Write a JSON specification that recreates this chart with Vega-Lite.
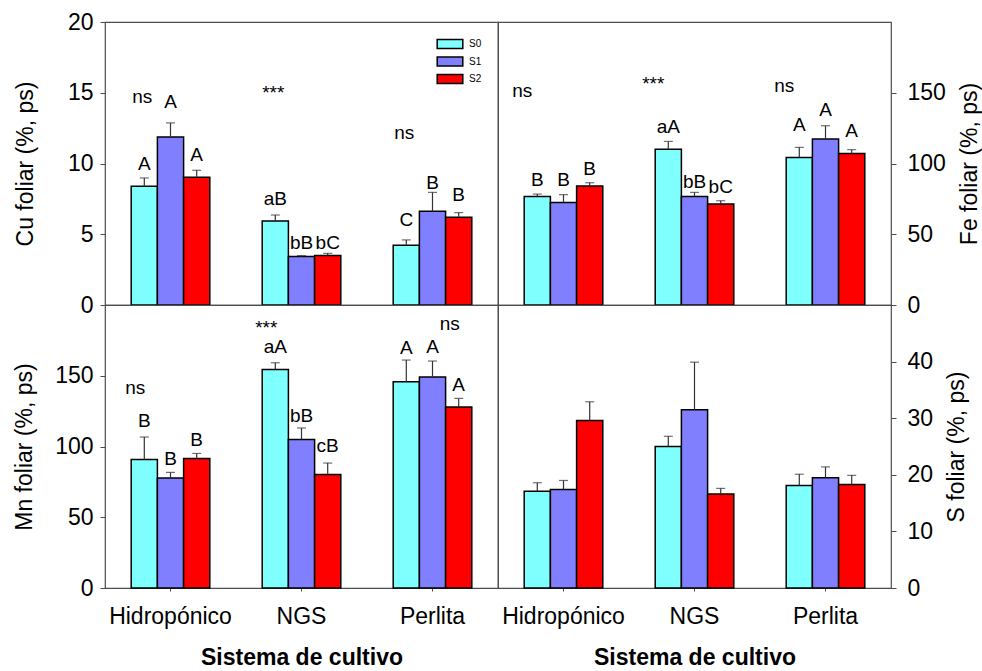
{
  "$schema": "https://vega.github.io/schema/vega-lite/v6.json",
  "padding": {"left": 13, "top": 10, "right": 0, "bottom": 0},
  "background": "white",
  "config": {
    "font": "Liberation Sans",
    "view": {"stroke": "#4d4d4d", "strokeWidth": 1.2},
    "concat": {"spacing": 0},
    "axis": {"domain": false, "grid": false, "labelFont": "Liberation Sans", "labelFontSize": 23, "labelColor": "black", "titleFont": "Liberation Sans", "titleFontSize": 23, "titleFontWeight": "normal", "titleColor": "black", "tickColor": "#4d4d4d", "tickSize": 5},
    "text": {"font": "Liberation Sans", "color": "black"}
  },
  "datasets": {
    "bars": [
      {"p": "Cu", "g": "Hidropónico", "s": "S0", "v": 8.39, "e": 8.98, "lab": "A", "ly": 9.57},
      {"p": "Cu", "g": "Hidropónico", "s": "S1", "v": 11.88, "e": 12.87, "lab": "A", "ly": 13.93},
      {"p": "Cu", "g": "Hidropónico", "s": "S2", "v": 9.02, "e": 9.52, "lab": "A", "ly": 10.16},
      {"p": "Cu", "g": "NGS", "s": "S0", "v": 5.94, "e": 6.36, "lab": "aB", "ly": 7.09},
      {"p": "Cu", "g": "NGS", "s": "S1", "v": 3.42, "e": 3.49, "lab": "bB", "ly": 3.98},
      {"p": "Cu", "g": "NGS", "s": "S2", "v": 3.49, "e": 3.65, "lab": "bC", "ly": 3.98},
      {"p": "Cu", "g": "Perlita", "s": "S0", "v": 4.22, "e": 4.6, "lab": "C", "ly": 5.56},
      {"p": "Cu", "g": "Perlita", "s": "S1", "v": 6.62, "e": 7.96, "lab": "B", "ly": 8.2},
      {"p": "Cu", "g": "Perlita", "s": "S2", "v": 6.2, "e": 6.53, "lab": "B", "ly": 7.33},
      {"p": "Fe", "g": "Hidropónico", "s": "S0", "v": 76.7, "e": 78.4, "lab": "B", "ly": 83.8},
      {"p": "Fe", "g": "Hidropónico", "s": "S1", "v": 72.5, "e": 78.0, "lab": "B", "ly": 83.8},
      {"p": "Fe", "g": "Hidropónico", "s": "S2", "v": 84.1, "e": 86.4, "lab": "B", "ly": 91.6},
      {"p": "Fe", "g": "NGS", "s": "S0", "v": 110.0, "e": 115.6, "lab": "aA", "ly": 121.5},
      {"p": "Fe", "g": "NGS", "s": "S1", "v": 76.7, "e": 79.6, "lab": "bB", "ly": 82.7},
      {"p": "Fe", "g": "NGS", "s": "S2", "v": 71.4, "e": 73.7, "lab": "bC", "ly": 78.9},
      {"p": "Fe", "g": "Perlita", "s": "S0", "v": 104.3, "e": 111.4, "lab": "A", "ly": 123.2},
      {"p": "Fe", "g": "Perlita", "s": "S1", "v": 117.3, "e": 126.7, "lab": "A", "ly": 133.8},
      {"p": "Fe", "g": "Perlita", "s": "S2", "v": 107.1, "e": 109.8, "lab": "A", "ly": 118.4},
      {"p": "Mn", "g": "Hidropónico", "s": "S0", "v": 90.9, "e": 106.7, "lab": "B", "ly": 113.5},
      {"p": "Mn", "g": "Hidropónico", "s": "S1", "v": 77.7, "e": 81.7, "lab": "B", "ly": 86.9},
      {"p": "Mn", "g": "Hidropónico", "s": "S2", "v": 91.6, "e": 95.1, "lab": "B", "ly": 100.1},
      {"p": "Mn", "g": "NGS", "s": "S0", "v": 154.5, "e": 159.2, "lab": "aA", "ly": 165.8},
      {"p": "Mn", "g": "NGS", "s": "S1", "v": 105.0, "e": 113.1, "lab": "bB", "ly": 117.0},
      {"p": "Mn", "g": "NGS", "s": "S2", "v": 80.3, "e": 88.3, "lab": "cB", "ly": 95.8},
      {"p": "Mn", "g": "Perlita", "s": "S0", "v": 145.8, "e": 161.1, "lab": "A", "ly": 165.4},
      {"p": "Mn", "g": "Perlita", "s": "S1", "v": 149.1, "e": 160.4, "lab": "A", "ly": 165.8},
      {"p": "Mn", "g": "Perlita", "s": "S2", "v": 127.9, "e": 134.0, "lab": "A", "ly": 138.9},
      {"p": "S", "g": "Hidropónico", "s": "S0", "v": 17.1, "e": 18.6, "lab": "", "ly": 0},
      {"p": "S", "g": "Hidropónico", "s": "S1", "v": 17.4, "e": 19.0, "lab": "", "ly": 0},
      {"p": "S", "g": "Hidropónico", "s": "S2", "v": 29.6, "e": 32.9, "lab": "", "ly": 0},
      {"p": "S", "g": "NGS", "s": "S0", "v": 25.0, "e": 26.8, "lab": "", "ly": 0},
      {"p": "S", "g": "NGS", "s": "S1", "v": 31.5, "e": 39.9, "lab": "", "ly": 0},
      {"p": "S", "g": "NGS", "s": "S2", "v": 16.6, "e": 17.6, "lab": "", "ly": 0},
      {"p": "S", "g": "Perlita", "s": "S0", "v": 18.1, "e": 20.1, "lab": "", "ly": 0},
      {"p": "S", "g": "Perlita", "s": "S1", "v": 19.5, "e": 21.4, "lab": "", "ly": 0},
      {"p": "S", "g": "Perlita", "s": "S2", "v": 18.3, "e": 19.9, "lab": "", "ly": 0}
    ],
    "ann": [
      {"p": "Cu", "g": "Hidropónico", "s": "S0", "t": "ns", "y": 14.29},
      {"p": "Cu", "g": "NGS", "s": "S0", "t": "***", "y": 14.58},
      {"p": "Cu", "g": "Perlita", "s": "S0", "t": "ns", "y": 11.74},
      {"p": "Fe", "g": "Hidropónico", "s": "S0", "t": "ns", "y": 147.2},
      {"p": "Fe", "g": "NGS", "s": "S0", "t": "***", "y": 152.2},
      {"p": "Fe", "g": "Perlita", "s": "S0", "t": "ns", "y": 150.2},
      {"p": "Mn", "g": "Hidropónico", "s": "S0", "t": "ns", "y": 137.1},
      {"p": "Mn", "g": "NGS", "s": "S0", "t": "***", "y": 179.8},
      {"p": "Mn", "g": "Perlita", "s": "S2", "t": "ns", "y": 182.3}
    ]
  },
  "columns": 2,
  "spacing": 0,
  "bounds": "flush",
  "resolve": {"scale": {"color": "independent"}},
  "concat": [
    {
      "width": 393, "height": 283,
      "data": {"name": "bars"},
      "transform": [{"filter": "datum.p == 'Cu'"}],
      "encoding": {
        "x": {"field": "g", "type": "nominal", "scale": {"domain": ["Hidropónico", "NGS", "Perlita"], "paddingInner": 0, "paddingOuter": 0}, "axis": null},
        "xOffset": {"field": "s", "type": "nominal", "scale": {"domain": ["S0", "S1", "S2"], "paddingInner": 0, "paddingOuter": 1}}
      },
      "layer": [
        {"mark": {"type": "bar", "stroke": "black", "strokeWidth": 1.5},
         "encoding": {
           "y": {"field": "v", "type": "quantitative", "scale": {"domain": [0, 20], "nice": false}, "axis": {"orient": "left", "values": [0, 5, 10, 15, 20], "title": "Cu foliar (%, ps)", "labelPadding": 7, "titlePadding": 30}},
           "color": {"field": "s", "type": "nominal", "scale": {"domain": ["S0", "S1", "S2"], "range": ["#80FFFF", "#8080FF", "#FF0000"]},
             "legend": {"orient": "none", "legendX": 336, "legendY": 13, "title": null, "symbolType": "M-1.6,-0.55H1.6V0.55H-1.6Z", "symbolSize": 256, "symbolStrokeColor": "black", "symbolStrokeWidth": 1.5, "symbolOpacity": 1, "labelFontSize": 10, "labelFont": "Liberation Sans", "labelColor": "black", "labelOffset": 10, "rowPadding": 0.5, "padding": 0}}
         }},
        {"mark": {"type": "rule", "color": "#333333", "strokeWidth": 1.2},
         "encoding": {"y": {"field": "v", "type": "quantitative", "scale": {"domain": [0, 20], "nice": false}}, "y2": {"field": "e"}}},
        {"mark": {"type": "tick", "color": "#333333", "thickness": 1.2, "size": 9},
         "encoding": {"y": {"field": "e", "type": "quantitative", "scale": {"domain": [0, 20], "nice": false}}}},
        {"mark": {"type": "text", "fontSize": 19, "baseline": "alphabetic"},
         "encoding": {"y": {"field": "ly", "type": "quantitative", "scale": {"domain": [0, 20], "nice": false}}, "text": {"field": "lab"}}},
        {"data": {"name": "ann"}, "transform": [{"filter": "datum.p == 'Cu'"}],
         "mark": {"type": "text", "fontSize": 19, "baseline": "alphabetic", "dx": -2},
         "encoding": {"y": {"field": "y", "type": "quantitative", "scale": {"domain": [0, 20], "nice": false}}, "text": {"field": "t"}}}
      ]
    },
    {
      "width": 393, "height": 283,
      "data": {"name": "bars"},
      "transform": [{"filter": "datum.p == 'Fe'"}],
      "encoding": {
        "x": {"field": "g", "type": "nominal", "scale": {"domain": ["Hidropónico", "NGS", "Perlita"], "paddingInner": 0, "paddingOuter": 0}, "axis": null},
        "xOffset": {"field": "s", "type": "nominal", "scale": {"domain": ["S0", "S1", "S2"], "paddingInner": 0, "paddingOuter": 1}}
      },
      "layer": [
        {"mark": {"type": "bar", "stroke": "black", "strokeWidth": 1.5},
         "encoding": {
           "y": {"field": "v", "type": "quantitative", "scale": {"domain": [0, 200], "nice": false}, "axis": {"orient": "right", "values": [0, 50, 100, 150], "title": "Fe foliar (%, ps)", "labelPadding": 11, "titlePadding": 13, "titleAngle": 270, "titleBaseline": "top"}},
           "color": {"field": "s", "type": "nominal", "scale": {"domain": ["S0", "S1", "S2"], "range": ["#80FFFF", "#8080FF", "#FF0000"]}, "legend": null}
         }},
        {"mark": {"type": "rule", "color": "#333333", "strokeWidth": 1.2},
         "encoding": {"y": {"field": "v", "type": "quantitative", "scale": {"domain": [0, 200], "nice": false}}, "y2": {"field": "e"}}},
        {"mark": {"type": "tick", "color": "#333333", "thickness": 1.2, "size": 9},
         "encoding": {"y": {"field": "e", "type": "quantitative", "scale": {"domain": [0, 200], "nice": false}}}},
        {"mark": {"type": "text", "fontSize": 19, "baseline": "alphabetic"},
         "encoding": {"y": {"field": "ly", "type": "quantitative", "scale": {"domain": [0, 200], "nice": false}}, "text": {"field": "lab"}}},
        {"data": {"name": "ann"}, "transform": [{"filter": "datum.p == 'Fe'"}],
         "mark": {"type": "text", "fontSize": 19, "baseline": "alphabetic", "dx": -15},
         "encoding": {"y": {"field": "y", "type": "quantitative", "scale": {"domain": [0, 200], "nice": false}}, "text": {"field": "t"}}}
      ]
    },
    {
      "width": 393, "height": 283,
      "data": {"name": "bars"},
      "transform": [{"filter": "datum.p == 'Mn'"}],
      "encoding": {
        "x": {"field": "g", "type": "nominal", "scale": {"domain": ["Hidropónico", "NGS", "Perlita"], "paddingInner": 0, "paddingOuter": 0},
          "axis": {"orient": "bottom", "title": "Sistema de cultivo", "titleFontWeight": "bold", "labelAngle": 0, "tickSize": 3, "labelPadding": 14, "titlePadding": 18}},
        "xOffset": {"field": "s", "type": "nominal", "scale": {"domain": ["S0", "S1", "S2"], "paddingInner": 0, "paddingOuter": 1}}
      },
      "layer": [
        {"mark": {"type": "bar", "stroke": "black", "strokeWidth": 1.5},
         "encoding": {
           "y": {"field": "v", "type": "quantitative", "scale": {"domain": [0, 200], "nice": false}, "axis": {"orient": "left", "values": [0, 50, 100, 150], "title": "Mn foliar (%, ps)", "labelPadding": 7, "titlePadding": 18}},
           "color": {"field": "s", "type": "nominal", "scale": {"domain": ["S0", "S1", "S2"], "range": ["#80FFFF", "#8080FF", "#FF0000"]}, "legend": null}
         }},
        {"mark": {"type": "rule", "color": "#333333", "strokeWidth": 1.2},
         "encoding": {"y": {"field": "v", "type": "quantitative", "scale": {"domain": [0, 200], "nice": false}}, "y2": {"field": "e"}}},
        {"mark": {"type": "tick", "color": "#333333", "thickness": 1.2, "size": 9},
         "encoding": {"y": {"field": "e", "type": "quantitative", "scale": {"domain": [0, 200], "nice": false}}}},
        {"mark": {"type": "text", "fontSize": 19, "baseline": "alphabetic"},
         "encoding": {"y": {"field": "ly", "type": "quantitative", "scale": {"domain": [0, 200], "nice": false}}, "text": {"field": "lab"}}},
        {"data": {"name": "ann"}, "transform": [{"filter": "datum.p == 'Mn'"}],
         "mark": {"type": "text", "fontSize": 19, "baseline": "alphabetic", "dx": -9},
         "encoding": {"y": {"field": "y", "type": "quantitative", "scale": {"domain": [0, 200], "nice": false}}, "text": {"field": "t"}}}
      ]
    },
    {
      "width": 393, "height": 283,
      "data": {"name": "bars"},
      "transform": [{"filter": "datum.p == 'S'"}],
      "encoding": {
        "x": {"field": "g", "type": "nominal", "scale": {"domain": ["Hidropónico", "NGS", "Perlita"], "paddingInner": 0, "paddingOuter": 0},
          "axis": {"orient": "bottom", "title": "Sistema de cultivo", "titleFontWeight": "bold", "labelAngle": 0, "tickSize": 3, "labelPadding": 14, "titlePadding": 18}},
        "xOffset": {"field": "s", "type": "nominal", "scale": {"domain": ["S0", "S1", "S2"], "paddingInner": 0, "paddingOuter": 1}}
      },
      "layer": [
        {"mark": {"type": "bar", "stroke": "black", "strokeWidth": 1.5},
         "encoding": {
           "y": {"field": "v", "type": "quantitative", "scale": {"domain": [0, 50], "nice": false}, "axis": {"orient": "right", "values": [0, 10, 20, 30, 40], "title": "S foliar (%, ps)", "labelPadding": 11, "titlePadding": 13, "titleAngle": 270, "titleBaseline": "top"}},
           "color": {"field": "s", "type": "nominal", "scale": {"domain": ["S0", "S1", "S2"], "range": ["#80FFFF", "#8080FF", "#FF0000"]}, "legend": null}
         }},
        {"mark": {"type": "rule", "color": "#333333", "strokeWidth": 1.2},
         "encoding": {"y": {"field": "v", "type": "quantitative", "scale": {"domain": [0, 50], "nice": false}}, "y2": {"field": "e"}}},
        {"mark": {"type": "tick", "color": "#333333", "thickness": 1.2, "size": 9},
         "encoding": {"y": {"field": "e", "type": "quantitative", "scale": {"domain": [0, 50], "nice": false}}}}
      ]
    }
  ]
}
